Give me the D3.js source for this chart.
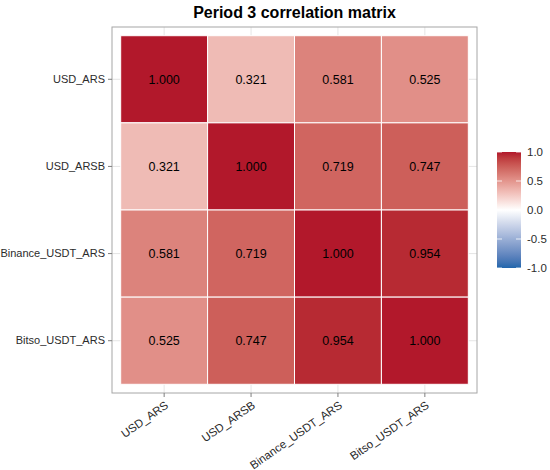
<!DOCTYPE html>
<html>
<head>
<meta charset="utf-8">
<script src="https://cdn.jsdelivr.net/npm/d3@7"></script>
<style>
  body { margin: 0; background: #fff; }
  text { font-family: Arial, "Liberation Sans", sans-serif; }
</style>
</head>
<body>
<div id="viz"></div>
<script>
const variables = ["USD_ARS", "USD_ARSB", "Binance_USDT_ARS", "Bitso_USDT_ARS"]

const corrUSD_ARS = [1.000, 0.321, 0.581, 0.525]
const corrUSD_ARSB = [0.321, 1.000, 0.719, 0.747]
const corrBinance = [0.581, 0.719, 1.000, 0.954]
const corrBitso = [0.525, 0.747, 0.954, 1.000]

const legendBreaks = [-1.0, -0.5, 0.0, 0.5, 1.0]

const rows = [corrUSD_ARS, corrUSD_ARSB, corrBinance, corrBitso]
const cells = []
rows.forEach((row, i) => {
    row.forEach((v, j) => cells.push({row: variables[i], col: variables[j], value: v}))
})

const width = 550, height = 470
const panel = {left: 112, right: 477, top: 27, bottom: 393}

const svg = d3.select("#viz").append("svg").attr("width", width).attr("height", height)

const x = d3.scaleBand().domain(variables).range([panel.left, panel.right]).paddingInner(0).paddingOuter(0.1)
const y = d3.scaleBand().domain(variables).range([panel.top, panel.bottom]).paddingInner(0).paddingOuter(0.1)

// gradient2: blue - white - red, Lab interpolation
const color = d3.scaleLinear()
    .domain([-1, 0, 1])
    .range(["#2166AC", "#FFFFFF", "#B2182B"])
    .interpolate(d3.interpolateLab)

// gridlines
svg.append("g").selectAll("line.gx")
    .data(variables).enter().append("line")
    .attr("x1", d => x(d) + x.bandwidth() / 2).attr("x2", d => x(d) + x.bandwidth() / 2)
    .attr("y1", panel.top).attr("y2", panel.bottom)
    .attr("stroke", "#dedede").attr("stroke-width", 0.8)
svg.append("g").selectAll("line.gy")
    .data(variables).enter().append("line")
    .attr("y1", d => y(d) + y.bandwidth() / 2).attr("y2", d => y(d) + y.bandwidth() / 2)
    .attr("x1", panel.left).attr("x2", panel.right)
    .attr("stroke", "#dedede").attr("stroke-width", 0.8)

// tiles
svg.append("g").selectAll("rect")
    .data(cells).enter().append("rect")
    .attr("x", d => x(d.col))
    .attr("y", d => y(d.row))
    .attr("width", x.bandwidth())
    .attr("height", y.bandwidth())
    .attr("fill", d => color(d.value))
    .attr("stroke", "white")
    .attr("stroke-width", 1)

svg.append("g").selectAll("text")
    .data(cells).enter().append("text")
    .attr("x", d => x(d.col) + x.bandwidth() / 2)
    .attr("y", d => y(d.row) + y.bandwidth() / 2)
    .attr("dy", "0.35em")
    .attr("text-anchor", "middle")
    .attr("font-size", 12.5)
    .attr("fill", "#000")
    .text(d => d3.format(".3f")(d.value))

// panel border
svg.append("rect")
    .attr("x", panel.left).attr("y", panel.top)
    .attr("width", panel.right - panel.left).attr("height", panel.bottom - panel.top)
    .attr("fill", "none").attr("stroke", "#a6a6a6").attr("stroke-width", 1)

// axes
const xAxis = svg.append("g")
    .attr("transform", `translate(0,${panel.bottom})`)
    .call(d3.axisBottom(x).tickSize(4).tickPadding(3))
xAxis.select(".domain").remove()
xAxis.selectAll(".tick line").attr("stroke", "#7f7f7f")
xAxis.selectAll(".tick text")
    .attr("font-size", 11.5)
    .attr("fill", "#2b2b2b")
    .attr("text-anchor", "end")
    .attr("dy", 0)
    .attr("y", 0)
    .attr("transform", "translate(5,14) rotate(-35)")

const yAxis = svg.append("g")
    .attr("transform", `translate(${panel.left},0)`)
    .call(d3.axisLeft(y).tickSize(4).tickPadding(3))
yAxis.select(".domain").remove()
yAxis.selectAll(".tick line").attr("stroke", "#7f7f7f")
yAxis.selectAll(".tick text").attr("font-size", 11).attr("fill", "#2b2b2b")

// title
svg.append("text")
    .attr("x", (panel.left + panel.right) / 2)
    .attr("y", 18)
    .attr("text-anchor", "middle")
    .attr("font-size", 16)
    .attr("font-weight", "bold")
    .attr("fill", "#000")
    .text("Period 3 correlation matrix")

// legend colorbar
const bar = {x: 497, w: 24, top: 152, bottom: 268}
const ly = d3.scaleLinear().domain([-1, 1]).range([bar.bottom, bar.top])
const defs = svg.append("defs")
const grad = defs.append("linearGradient")
    .attr("id", "cbar").attr("x1", 0).attr("y1", 1).attr("x2", 0).attr("y2", 0)
d3.range(0, 21).forEach(k => {
    const v = -1 + k / 10
    grad.append("stop").attr("offset", `${k * 5}%`).attr("stop-color", color(v))
})
svg.append("rect")
    .attr("x", bar.x).attr("y", bar.top)
    .attr("width", bar.w).attr("height", bar.bottom - bar.top)
    .attr("fill", "url(#cbar)")

const lg = svg.append("g")
lg.selectAll("line.l").data(legendBreaks).enter().append("line")
    .attr("x1", bar.x).attr("x2", bar.x + 5)
    .attr("y1", d => ly(d)).attr("y2", d => ly(d))
    .attr("stroke", "white").attr("stroke-width", 0.8)
lg.selectAll("line.r").data(legendBreaks).enter().append("line")
    .attr("x1", bar.x + bar.w - 5).attr("x2", bar.x + bar.w)
    .attr("y1", d => ly(d)).attr("y2", d => ly(d))
    .attr("stroke", "white").attr("stroke-width", 0.8)
lg.selectAll("text").data(legendBreaks).enter().append("text")
    .attr("x", bar.x + bar.w + 6)
    .attr("y", d => ly(d))
    .attr("dy", "0.35em")
    .attr("font-size", 11.5)
    .attr("fill", "#2b2b2b")
    .text(d => d.toFixed(1))
</script>
</body>
</html>
